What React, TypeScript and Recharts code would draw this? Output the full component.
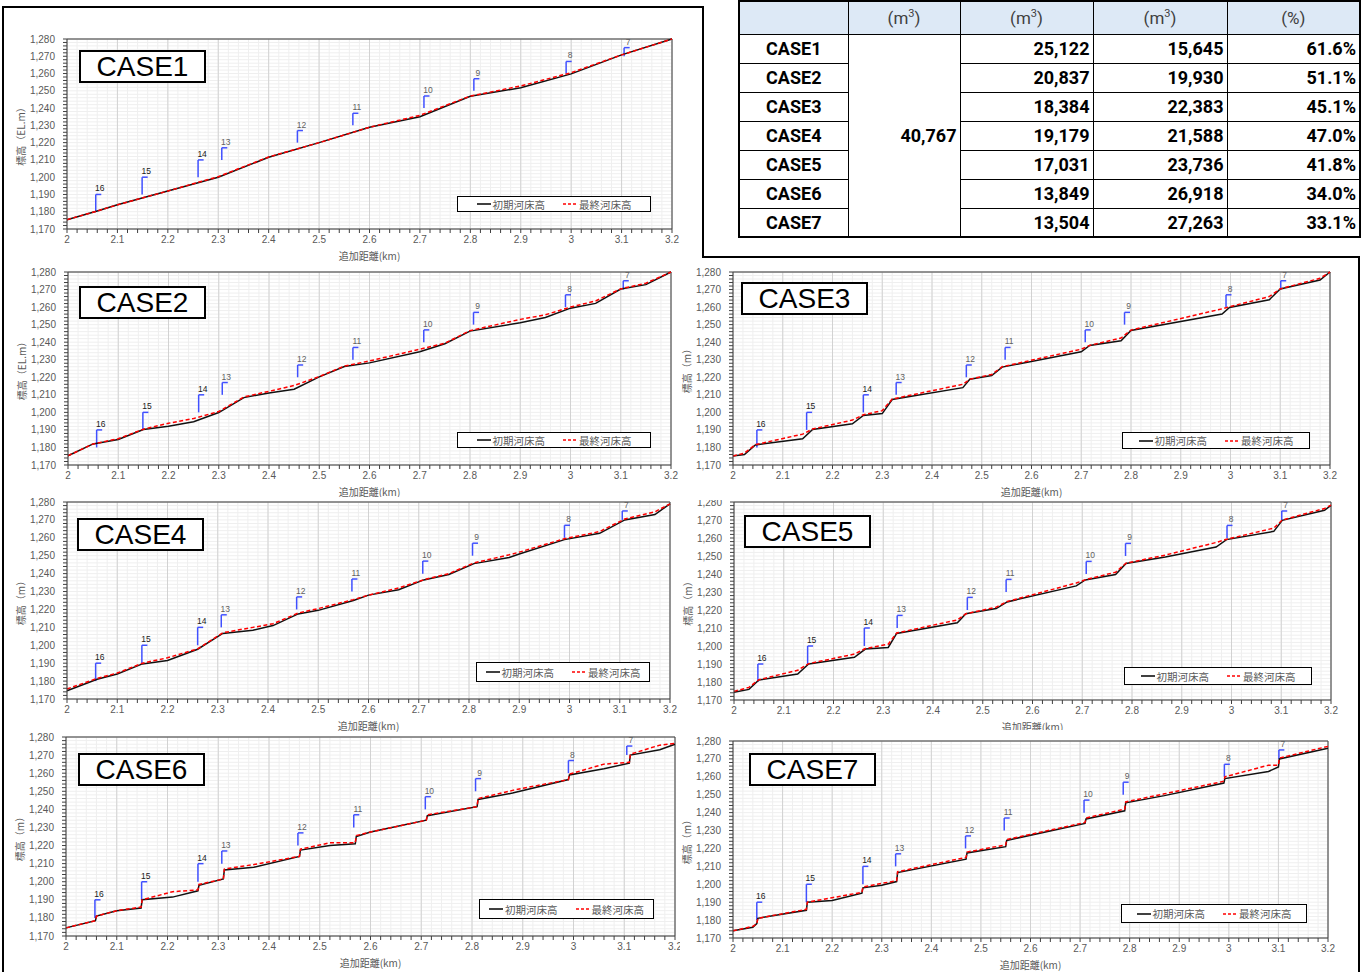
import { LineChart, Line, XAxis, YAxis, CartesianGrid, ReferenceLine, ReferenceDot } from 'recharts'

const X_TICKS = [2, 2.1, 2.2, 2.3, 2.4, 2.5, 2.6, 2.7, 2.8, 2.9, 3, 3.1, 3.2]
const Y_TICKS = [1170, 1180, 1190, 1200, 1210, 1220, 1230, 1240, 1250, 1260, 1270, 1280]
const SERIES_NAMES = ['初期河床高', '最終河床高']
const X_TITLE = '追加距離(km)'

const CASE1_X = [2.0, 2.06, 2.1, 2.2, 2.26, 2.3, 2.4, 2.5, 2.6, 2.7, 2.8, 2.9, 3.0, 3.1, 3.2]
const CASE1_INITIAL = [1175.4, 1180.4, 1184, 1192, 1196.8, 1200, 1211.5, 1220, 1228.9, 1235, 1246.8, 1251.8, 1259.8, 1270.8, 1280]
const CASE1_FINAL = [1175.4, 1180.4, 1184, 1192, 1197, 1200.3, 1211.7, 1220, 1228.9, 1235.8, 1247, 1252.8, 1260.5, 1270.8, 1280]

const CASE2_X = [2.0, 2.05, 2.1, 2.15, 2.2, 2.25, 2.3, 2.35, 2.4, 2.45, 2.5, 2.55, 2.6, 2.7, 2.75, 2.8, 2.9, 2.95, 3.0, 3.05, 3.1, 3.15, 3.2]
const CASE2_INITIAL = [1175.3, 1182, 1184.5, 1190.2, 1192.1, 1194.7, 1199.9, 1208.4, 1211.1, 1213.2, 1220.2, 1226.1, 1228.2, 1234.5, 1239.1, 1246.3, 1251.1, 1254.1, 1259.4, 1262.1, 1270.3, 1272.8, 1280]
const CASE2_FINAL = [1175.3, 1182, 1185, 1190.4, 1193.8, 1196.5, 1200.5, 1208.8, 1212, 1215.3, 1220.4, 1226.4, 1229.3, 1236, 1239.4, 1246.6, 1253, 1255.6, 1260, 1263.5, 1270.4, 1273.6, 1280]

const CASE3_X = [2.0, 2.023, 2.045, 2.14, 2.16, 2.24, 2.262, 2.3, 2.32, 2.462, 2.476, 2.52, 2.541, 2.7, 2.717, 2.78, 2.8, 2.983, 2.998, 3.078, 3.1, 3.18, 3.2]
const CASE3_INITIAL = [1175.1, 1176, 1181.4, 1185, 1190.3, 1193.5, 1198.2, 1199.3, 1207.3, 1214.1, 1218.9, 1221, 1225.8, 1234.5, 1238.1, 1240.8, 1246.7, 1256, 1259.8, 1264.2, 1270.3, 1275.4, 1280]
const CASE3_FINAL = [1175.1, 1176.8, 1181.6, 1187.6, 1190.5, 1195.6, 1198.6, 1201, 1207.6, 1216, 1218.9, 1221.6, 1226, 1236, 1238.2, 1242.4, 1246.9, 1259, 1260.2, 1266, 1270.4, 1276.4, 1280]

const CASE4_X = [2.0, 2.06, 2.1, 2.15, 2.2, 2.26, 2.31, 2.37, 2.41, 2.46, 2.5, 2.57, 2.6, 2.66, 2.71, 2.76, 2.81, 2.88, 2.9, 2.99, 3.06, 3.11, 3.17, 3.2]
const CASE4_INITIAL = [1174.6, 1181, 1184, 1189.6, 1191.5, 1197.8, 1206.6, 1208.4, 1211, 1217.5, 1219.5, 1225, 1228, 1231, 1236.5, 1239.5, 1245.6, 1249, 1251, 1259, 1262.5, 1270, 1273, 1279]
const CASE4_FINAL = [1175.6, 1181.5, 1184.5, 1190, 1193, 1198, 1207, 1210, 1212, 1218, 1220.5, 1225.5, 1228, 1232, 1236.6, 1240, 1246, 1250.5, 1252, 1259.5, 1263.5, 1270.5, 1274.5, 1279]

const CASE5_X = [2.0, 2.03, 2.05, 2.128, 2.15, 2.242, 2.264, 2.31, 2.327, 2.449, 2.466, 2.527, 2.549, 2.688, 2.706, 2.767, 2.788, 2.867, 2.969, 2.99, 3.085, 3.102, 3.187, 3.2]
const CASE5_INITIAL = [1174.3, 1175.9, 1181.1, 1184.4, 1190, 1193.7, 1198.3, 1199.2, 1207, 1212.9, 1217.9, 1220.8, 1224.5, 1233.4, 1236.7, 1239.7, 1245.8, 1249.5, 1255, 1259.1, 1263.7, 1269.8, 1275.4, 1278.1]
const CASE5_FINAL = [1174.8, 1177, 1181.3, 1186.5, 1190.2, 1195.5, 1198.6, 1201, 1207.2, 1214.5, 1217.9, 1221.6, 1224.7, 1235, 1236.8, 1241, 1246, 1250.5, 1257.5, 1259.3, 1265.5, 1270, 1276.4, 1278.3]

const CASE6_X = [2.0, 2.058, 2.06, 2.1, 2.148, 2.15, 2.21, 2.26, 2.262, 2.31, 2.312, 2.37, 2.46, 2.462, 2.52, 2.57, 2.572, 2.6, 2.71, 2.712, 2.81, 2.812, 2.88, 2.99, 2.992, 3.06, 3.11, 3.112, 3.17, 3.2]
const CASE6_INITIAL = [1174.5, 1178.5, 1181, 1184, 1185.5, 1190, 1191.5, 1195, 1198, 1201.5, 1206.5, 1208, 1214, 1217.5, 1220, 1221, 1225, 1227.5, 1234, 1236.5, 1241.5, 1245.5, 1249, 1256.5, 1259, 1262.5, 1265.5, 1270, 1273, 1276]
const CASE6_FINAL = [1174.5, 1178.5, 1181, 1184, 1186, 1190, 1194.5, 1195.5, 1198.5, 1201.5, 1207, 1209.5, 1214, 1218, 1221.5, 1221.5, 1225.5, 1227.5, 1234, 1237, 1241.5, 1246, 1250.5, 1256.5, 1259.5, 1265, 1266, 1270.5, 1275.5, 1276.5]

const CASE7_X = [2.0, 2.04, 2.048, 2.05, 2.148, 2.15, 2.2, 2.26, 2.262, 2.3, 2.33, 2.332, 2.47, 2.472, 2.55, 2.552, 2.71, 2.712, 2.79, 2.792, 2.87, 2.99, 2.992, 3.08, 3.1, 3.102, 3.2]
const CASE7_INITIAL = [1174, 1176, 1178, 1181, 1185.5, 1190, 1191, 1195, 1198, 1199.5, 1201.5, 1206.5, 1214, 1217.5, 1221, 1224.5, 1234, 1236.5, 1241, 1245.5, 1249.5, 1256.5, 1259, 1263, 1265.5, 1270, 1276]
const CASE7_FINAL = [1174, 1176.5, 1178, 1181, 1186, 1190, 1192.5, 1195.5, 1198.5, 1200.5, 1202, 1207, 1215, 1218, 1222, 1225, 1234.5, 1237, 1242, 1246, 1250.5, 1257.5, 1260, 1266.5, 1266.5, 1270.5, 1277]

// section markers (No.16 … No.7)
const SECTION_NO = [16, 15, 14, 13, 12, 11, 10, 9, 8, 7]
const SECTION_X_LEFT = [2.057, 2.149, 2.26, 2.307, 2.457, 2.567, 2.708, 2.807, 2.99, 3.105]
const SECTION_X_RIGHT = [2.048, 2.148, 2.262, 2.328, 2.469, 2.547, 2.708, 2.787, 2.991, 3.101]
const SECTION_BOTTOM = [1180, 1190, 1200, 1210, 1220, 1230, 1240, 1250, 1260, 1270]
const SECTION_TOP = [1190, 1200, 1210, 1217, 1227, 1237, 1247, 1257, 1267, 1275]

// table
const TABLE_CASES = ['CASE1', 'CASE2', 'CASE3', 'CASE4', 'CASE5', 'CASE6', 'CASE7']
const TABLE_UNITS = ['', 'm3', 'm3', 'm3', '%']
const TOTAL_VOLUME = 40767
const VOLUME_A = [25122, 20837, 18384, 19179, 17031, 13849, 13504]
const VOLUME_B = [15645, 19930, 22383, 21588, 23736, 26918, 27263]
const RATIO = [61.6, 51.1, 45.1, 47.0, 41.8, 34.0, 33.1]

const YW = 60
const MT = 8
const MR = 8
const XH = 34
const FLAG_W = 0.011

const sub = (a: number[]) =>
  a.slice(0, -1).flatMap((v, i) => [0, 1, 2, 3, 4].map((k) => +(v + ((a[i + 1] - v) * k) / 5).toFixed(3))).concat(a[a.length - 1])
const X_MINOR = sub(X_TICKS)
const Y_MINOR = sub(Y_TICKS)

type Rect = [number, number, number, number]
interface Panel {
  name: string
  x: number[]
  initial: number[]
  final: number[]
  sectionX: number[]
  yLabel: string
  clip: Rect
  plot: Rect
  legend: Rect
  caseBox: [number, number]
}

const PANELS: Panel[] = [
  { name: 'CASE1', x: CASE1_X, initial: CASE1_INITIAL, final: CASE1_FINAL, sectionX: SECTION_X_LEFT, yLabel: '標高（EL.m）', clip: [4, 8, 701, 262], plot: [67, 39, 672, 229], legend: [457, 196, 194, 16], caseBox: [79, 50] },
  { name: 'CASE2', x: CASE2_X, initial: CASE2_INITIAL, final: CASE2_FINAL, sectionX: SECTION_X_LEFT, yLabel: '標高（EL.m）', clip: [4, 262, 680, 497], plot: [68, 272, 671, 465], legend: [457, 432, 194, 16], caseBox: [79, 286] },
  { name: 'CASE3', x: CASE3_X, initial: CASE3_INITIAL, final: CASE3_FINAL, sectionX: SECTION_X_RIGHT, yLabel: '標高（m）', clip: [680, 262, 1357, 500], plot: [733, 272, 1330, 465], legend: [1122, 432, 188, 17], caseBox: [741, 282] },
  { name: 'CASE4', x: CASE4_X, initial: CASE4_INITIAL, final: CASE4_FINAL, sectionX: SECTION_X_LEFT, yLabel: '標高（m）', clip: [4, 497, 680, 732], plot: [67, 502, 670, 699], legend: [476, 662, 174, 20], caseBox: [77, 518] },
  { name: 'CASE5', x: CASE5_X, initial: CASE5_INITIAL, final: CASE5_FINAL, sectionX: SECTION_X_RIGHT, yLabel: '標高（m）', clip: [680, 500, 1357, 730], plot: [734, 502, 1331, 700], legend: [1124, 667, 188, 18], caseBox: [744, 515] },
  { name: 'CASE6', x: CASE6_X, initial: CASE6_INITIAL, final: CASE6_FINAL, sectionX: SECTION_X_LEFT, yLabel: '標高（m）', clip: [4, 732, 680, 972], plot: [66, 737, 675, 936], legend: [479, 899, 175, 20], caseBox: [78, 753] },
  { name: 'CASE7', x: CASE7_X, initial: CASE7_INITIAL, final: CASE7_FINAL, sectionX: SECTION_X_RIGHT, yLabel: '標高（m）', clip: [680, 730, 1357, 972], plot: [733, 741, 1328, 938], legend: [1121, 904, 186, 19], caseBox: [749, 753] },
]

const TICK_STYLE = { fill: '#595959', fontSize: 10, fontFamily: '"Liberation Sans", Arial, sans-serif' }
const JP = '"Noto Sans CJK JP", sans-serif'

const fmtX = (v: number) => (X_TICKS.some((t) => Math.abs(t - v) < 1e-6) ? String(+v.toFixed(1)) : '')
const fmtY = (v: number) => (Y_TICKS.includes(v) ? v.toLocaleString('en-US') : '')

function LegendBox({ r }: { r: Rect }) {
  return (
    <div
      style={{
        position: 'absolute', left: r[0], top: r[1], width: r[2], height: r[3], boxSizing: 'border-box',
        border: '1.5px solid #000', background: '#fff', display: 'flex', alignItems: 'center',
        justifyContent: 'center', gap: 18, fontFamily: JP, fontSize: 10.5, color: '#595959',
      }}
    >
      <span style={{ display: 'flex', alignItems: 'center', gap: 2 }}>
        <svg width={14} height={4}><line x1={0} y1={2} x2={14} y2={2} stroke="#000" strokeWidth={1.5} /></svg>
        {SERIES_NAMES[0]}
      </span>
      <span style={{ display: 'flex', alignItems: 'center', gap: 2 }}>
        <svg width={14} height={4}><line x1={0} y1={2} x2={14} y2={2} stroke="#ff0000" strokeWidth={1.5} strokeDasharray="3 2" /></svg>
        {SERIES_NAMES[1]}
      </span>
    </div>
  )
}

function ProfileChart({ p }: { p: Panel }) {
  const data = p.x.map((x, i) => ({ x, initial: p.initial[i], final: p.final[i] }))
  const plotW = p.plot[2] - p.plot[0]
  const plotH = p.plot[3] - p.plot[1]
  const [cl, ct, cr, cb] = p.clip
  return (
    <div style={{ position: 'absolute', left: cl, top: ct, width: cr - cl, height: cb - ct, overflow: 'hidden' }}>
      <div style={{ position: 'absolute', left: p.plot[0] - YW - cl, top: p.plot[1] - MT - ct }}>
        <LineChart width={YW + plotW + MR} height={MT + plotH + XH} data={data} margin={{ top: MT, right: MR, left: 0, bottom: 0 }}>
          <XAxis xAxisId="major" type="number" dataKey="x" domain={[2, 3.2]} ticks={X_TICKS} hide />
          <YAxis yAxisId="major" type="number" domain={[1170, 1280]} ticks={Y_TICKS} hide />
          <CartesianGrid stroke="#efefef" strokeWidth={1} />
          <CartesianGrid xAxisId="major" yAxisId="major" stroke="#d2d2d2" strokeWidth={1} />
          <XAxis
            type="number" dataKey="x" domain={[2, 3.2]} ticks={X_MINOR} interval={0} tickFormatter={fmtX}
            height={XH} tickSize={4} tickMargin={3} tick={TICK_STYLE}
            stroke="#404040" tickLine={{ stroke: '#404040' }}
            label={({ viewBox }: any) => (
              <text x={viewBox.x + viewBox.width / 2} y={viewBox.y + 26} textAnchor="middle" dominantBaseline="central" fontSize={10} fill="#595959" fontFamily={JP}>
                {X_TITLE}
              </text>
            )}
          />
          <YAxis
            type="number" domain={[1170, 1280]} ticks={Y_MINOR} interval={0} tickFormatter={fmtY}
            width={YW} tickSize={4} tickMargin={8} tick={TICK_STYLE}
            stroke="#404040" tickLine={{ stroke: '#404040' }}
            label={({ viewBox }: any) => {
              const cx = viewBox.x + 13.5
              const cy = viewBox.y + viewBox.height / 2
              return (
                <text x={cx} y={cy} transform={`rotate(-90 ${cx} ${cy})`} textAnchor="middle" dominantBaseline="central" fontSize={10} fill="#595959" fontFamily={JP}>
                  {p.yLabel}
                </text>
              )
            }}
          />
          <ReferenceLine y={1280} stroke="#404040" />
          <ReferenceLine x={3.2} stroke="#404040" />
          {SECTION_NO.map((no, i) => {
            const sx = p.sectionX[i]
            return [
              <ReferenceLine key={`v${no}`} segment={[{ x: sx, y: SECTION_BOTTOM[i] }, { x: sx, y: SECTION_TOP[i] }]} stroke="#4050ff" strokeWidth={1.5} />,
              <ReferenceLine key={`h${no}`} segment={[{ x: sx, y: SECTION_TOP[i] }, { x: sx + FLAG_W, y: SECTION_TOP[i] }]} stroke="#4050ff" strokeWidth={1.5} />,
              <ReferenceDot
                key={`t${no}`} x={sx + 0.008} y={SECTION_TOP[i]} r={0} stroke="none"
                label={{ value: String(no), position: 'top', offset: 3, fontSize: 8.5, fill: i < 3 ? '#202020' : '#606060', fontFamily: '"Liberation Sans", sans-serif' }}
              />,
            ]
          })}
          <Line type="linear" dataKey="initial" name={SERIES_NAMES[0]} stroke="#111" strokeWidth={1.5} dot={false} isAnimationActive={false} />
          <Line type="linear" dataKey="final" name={SERIES_NAMES[1]} stroke="#ff0000" strokeWidth={1.5} strokeDasharray="4 2.5" dot={false} isAnimationActive={false} />
        </LineChart>
      </div>
      <LegendBox r={[p.legend[0] - cl, p.legend[1] - ct, p.legend[2], p.legend[3]]} />
      <div
        style={{
          position: 'absolute', left: p.caseBox[0] - cl, top: p.caseBox[1] - ct, width: 127, height: 33, boxSizing: 'border-box',
          border: '2px solid #000', background: '#fff', display: 'flex', alignItems: 'center', justifyContent: 'center',
          fontFamily: '"Liberation Sans", Arial, sans-serif', fontSize: 28, color: '#000',
        }}
      >
        {p.name}
      </div>
    </div>
  )
}

function SummaryTable() {
  const cell = { border: '1px solid #000', padding: '0 3px', fontFamily: 'Roboto, sans-serif' } as const
  const widths = [109, 112, 133, 134, 133]
  return (
    <table
      style={{
        position: 'absolute', left: 738, top: 0, width: 621, borderCollapse: 'collapse', tableLayout: 'fixed',
        border: '2px solid #000', fontSize: 18, color: '#000',
      }}
    >
      <colgroup>
        {widths.map((w, i) => <col key={i} style={{ width: w }} />)}
      </colgroup>
      <thead>
        <tr style={{ height: 33, background: '#dde9f6' }}>
          {TABLE_UNITS.map((u, i) => (
            <th key={i} style={{ ...cell, fontWeight: 400, color: '#404040', fontSize: 17 }}>
              {u === 'm3' ? <>(m<sup style={{ fontSize: 11 }}>3</sup>)</> : u ? `(${u})` : ''}
            </th>
          ))}
        </tr>
      </thead>
      <tbody>
        {TABLE_CASES.map((c, i) => (
          <tr key={c} style={{ height: 29 }}>
            <td style={{ ...cell, textAlign: 'center', fontWeight: 700 }}>{c}</td>
            {i === 0 && (
              <td rowSpan={TABLE_CASES.length} style={{ ...cell, textAlign: 'right', fontWeight: 700 }}>
                {TOTAL_VOLUME.toLocaleString('en-US')}
              </td>
            )}
            <td style={{ ...cell, textAlign: 'right', fontWeight: 700 }}>{VOLUME_A[i].toLocaleString('en-US')}</td>
            <td style={{ ...cell, textAlign: 'right', fontWeight: 700 }}>{VOLUME_B[i].toLocaleString('en-US')}</td>
            <td style={{ ...cell, textAlign: 'right', fontWeight: 700 }}>{RATIO[i].toFixed(1)}%</td>
          </tr>
        ))}
      </tbody>
    </table>
  )
}

export default function App() {
  return (
    <div style={{ position: 'absolute', left: 0, top: 0, width: 1364, height: 972, background: '#fff', overflow: 'hidden' }}>
      {PANELS.map((p) => <ProfileChart key={p.name} p={p} />)}
      <SummaryTable />
      <svg width={1364} height={972} style={{ position: 'absolute', left: 0, top: 0, pointerEvents: 'none' }}>
        <path d="M3 972 L3 7 L703 7 L703 257 L1359 257 L1359 972" fill="none" stroke="#000" strokeWidth={2} />
      </svg>
    </div>
  )
}
